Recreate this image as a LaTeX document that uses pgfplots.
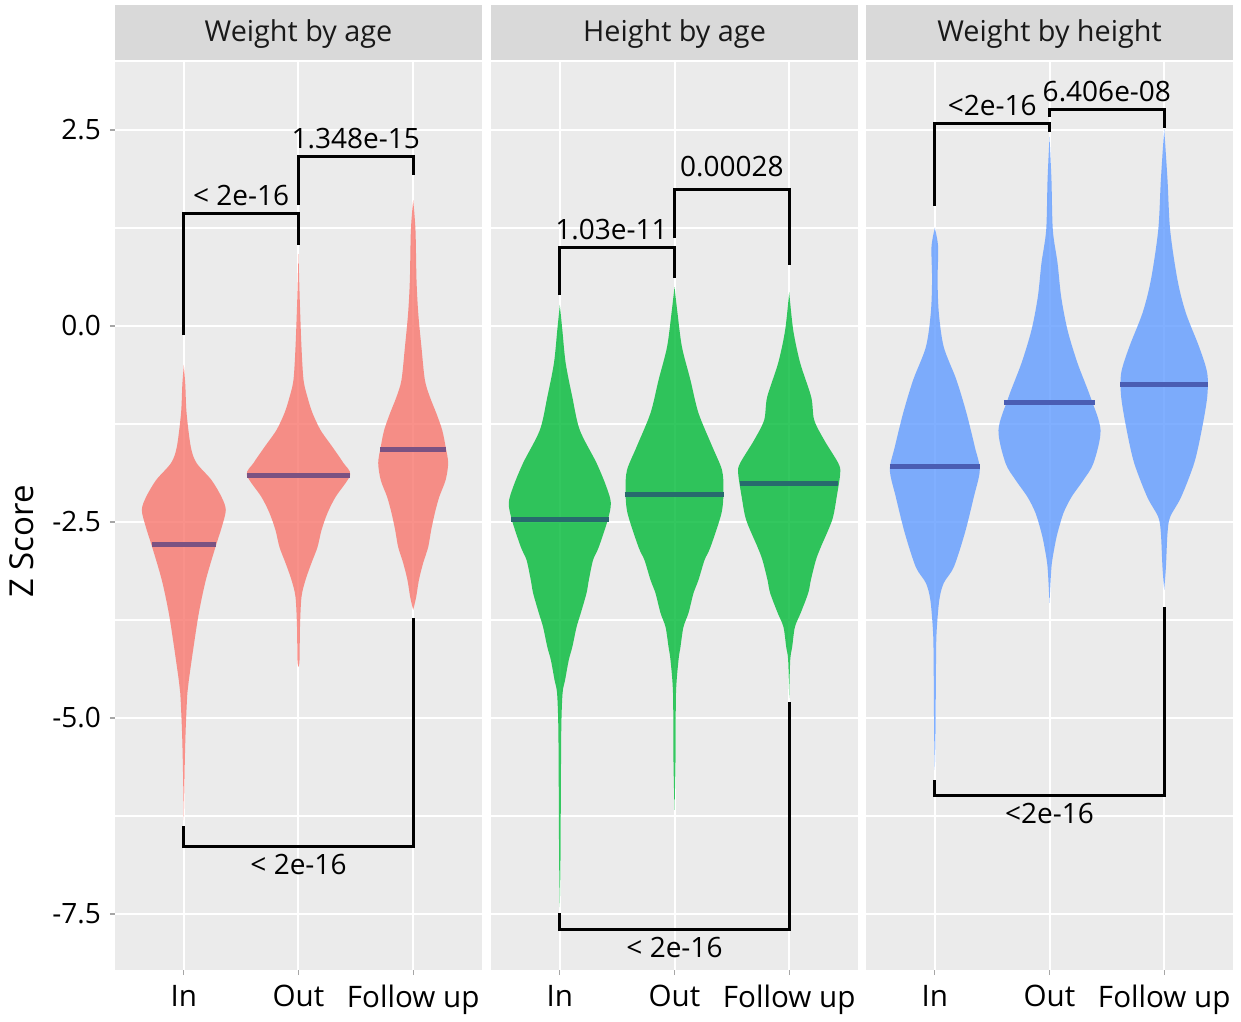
\documentclass[border=0pt]{standalone}
\usepackage{pgfplots}
\pgfplotsset{compat=1.18}
\usepackage{pgfplotstable}
\usepgfplotslibrary{fillbetween}
\usepackage{fontspec}
\setmainfont{Open Sans}
\definecolor{panelbg}{HTML}{EBEBEB}
\definecolor{stripbg}{HTML}{D9D9D9}
\definecolor{vred}{HTML}{F8766D}
\definecolor{vgreen}{HTML}{00BA38}
\definecolor{vblue}{HTML}{619CFF}
\definecolor{mred}{HTML}{7B5282}
\definecolor{mgreen}{HTML}{276B6D}
\definecolor{mblue}{HTML}{4A5DB3}
\newcommand{\tfont}{\fontsize{14}{16}\selectfont}
\newcommand{\xfont}{\fontsize{14.8}{17}\selectfont}
\newcommand{\sfont}{\fontsize{14.4}{17}\selectfont}
\newcommand{\lfont}{\fontsize{16.5}{19}\selectfont}

% ---- Weight by age ----
\pgfplotstableread{
y w
-0.497 0
-0.753 0.013
-1.110 0.024
-1.543 0.061
-1.747 0.111
-1.964 0.241
-2.181 0.329
-2.347 0.366
-2.564 0.331
-2.819 0.276
-3.240 0.192
-3.661 0.131
-4.094 0.085
-4.515 0.044
-4.681 0.031
-5.115 0.017
-5.536 0.009
-6.301 0
}\tWAin
\pgfplotstableread{
y w
0.918 0
0.332 0.011
-0.268 0.026
-0.689 0.044
-0.906 0.078
-1.110 0.122
-1.327 0.192
-1.543 0.296
-1.747 0.392
-1.901 0.450
-2.181 0.323
-2.385 0.253
-2.602 0.201
-2.819 0.166
-3.023 0.113
-3.240 0.061
-3.457 0.026
-3.839 0.013
-4.260 0.009
-4.349 0
}\tWAout
\pgfplotstableread{
y w
1.607 0
1.224 0.020
0.587 0.029
0.166 0.044
-0.268 0.072
-0.689 0.102
-0.906 0.146
-1.110 0.201
-1.327 0.253
-1.543 0.283
-1.747 0.305
-1.964 0.283
-2.181 0.227
-2.385 0.189
-2.602 0.157
-2.819 0.131
-3.023 0.087
-3.240 0.050
-3.457 0.026
-3.622 0
}\tWAfu
% ---- Height by age ----
\pgfplotstableread{
y w
0.268 0
-0.051 0.022
-0.472 0.051
-0.906 0.109
-1.327 0.174
-1.747 0.320
-2.054 0.407
-2.258 0.445
-2.474 0.418
-2.819 0.340
-2.985 0.290
-3.240 0.253
-3.406 0.233
-3.661 0.183
-3.839 0.146
-4.094 0.109
-4.260 0.078
-4.515 0.046
-4.681 0.024
-5.115 0.013
-5.957 0.009
-6.811 0.006
-7.411 0
}\tHAin
\pgfplotstableread{
y w
0.497 0
0.166 0.026
-0.268 0.065
-0.689 0.139
-1.110 0.209
-1.543 0.331
-1.837 0.414
-2.092 0.427
-2.385 0.410
-2.819 0.314
-2.985 0.262
-3.240 0.209
-3.406 0.166
-3.661 0.122
-3.839 0.078
-4.094 0.052
-4.260 0.035
-4.681 0.013
-5.536 0.009
-6.173 0
}\tHAout
\pgfplotstableread{
y w
0.434 0
-0.051 0.035
-0.472 0.096
-0.906 0.192
-1.199 0.218
-1.454 0.305
-1.747 0.427
-1.875 0.445
-2.181 0.414
-2.474 0.375
-2.819 0.276
-2.985 0.233
-3.240 0.189
-3.406 0.166
-3.661 0.100
-3.839 0.050
-4.094 0.026
-4.260 0.009
-4.745 0
}\tHAfu
% ---- Weight by height ----
\pgfplotstableread{
y w
1.250 0
1.008 0.029
0.587 0.024
0.166 0.035
-0.268 0.078
-0.689 0.189
-1.110 0.276
-1.543 0.349
-1.837 0.392
-2.181 0.340
-2.640 0.262
-3.074 0.166
-3.278 0.078
-3.495 0.039
-3.916 0.015
-4.349 0.010
-5.191 0.006
-5.663 0
}\tWHin
\pgfplotstableread{
y w
2.411 0
1.862 0.017
1.224 0.029
0.804 0.070
0.370 0.102
-0.051 0.157
-0.472 0.244
-0.906 0.357
-1.327 0.445
-1.747 0.384
-1.964 0.296
-2.181 0.192
-2.385 0.122
-2.640 0.070
-2.819 0.044
-3.074 0.017
-3.533 0
}\tWHout
\pgfplotstableread{
y w
2.513 0
1.862 0.029
1.224 0.052
0.587 0.116
0.166 0.189
-0.268 0.305
-0.599 0.375
-0.906 0.375
-1.327 0.327
-1.747 0.262
-2.181 0.148
-2.436 0.052
-2.640 0.029
-3.074 0.015
-3.367 0
}\tWHfu

\newcommand{\violin}[3]{%
  \addplot[draw=none, smooth, name path=R#2] table[x expr={#2+\thisrow{w}}, y=y] {#1};
  \addplot[draw=none, smooth, name path=L#2] table[x expr={#2-\thisrow{w}}, y=y] {#1};
  \addplot[fill=#3, fill opacity=0.8, draw=none] fill between[of=R#2 and L#2];
}

\tikzset{
  strip/.style={anchor=south, fill=stripbg, minimum width=183.5pt,
    minimum height=27.5pt, inner sep=0pt, text=black!90, font=\sfont,
    text depth=1.2pt},
  pv/.style={anchor=base, font=\tfont, text=black},
  br/.style={black, line width=1.5pt, line join=miter},
}
\pgfplotsset{
  facet/.style={
    width=183.5pt, height=454pt, scale only axis, clip=false,
    xmin=0.4, xmax=3.6, ymin=-8.214, ymax=3.367,
    axis background/.style={fill=panelbg},
    axis line style={draw=none},
    xtick={1,2,3}, xticklabels={In,Out,Follow up},
    ytick={-7.5,-5,-2.5,0,2.5},
    minor ytick={-6.25,-3.75,-1.25,1.25},
    xmajorgrids, ymajorgrids, yminorgrids,
    major grid style={white, line width=1pt},
    minor grid style={white, line width=0.6pt},
    tick align=outside, major tick length=2.5pt, minor tick length=0pt,
    major tick style={gray!70, line width=0.6pt},
    xtick pos=bottom, ytick pos=left,
    yticklabel style={font=\tfont, text=black, xshift=-1pt},
    xticklabel style={font=\xfont, text=black, yshift=-1.5pt},
  },
}

\begin{document}
\begin{tikzpicture}
% ---------- Panel 1 ----------
\begin{axis}[facet, at={(0pt,0pt)}, anchor=south west,
  yticklabels={-7.5,-5.0,-2.5,0.0,2.5}]
\violin{\tWAin}{1}{vred}
\violin{\tWAout}{2}{vred}
\violin{\tWAfu}{3}{vred}
\addplot[mred, line width=2.5pt] coordinates {(0.721,-2.793) (1.279,-2.793)};
\addplot[mred, line width=2.5pt] coordinates {(1.550,-1.901) (2.450,-1.901)};
\addplot[mred, line width=2.5pt] coordinates {(2.712,-1.569) (3.288,-1.569)};
\addplot[br] coordinates {(1,-0.115) (1,1.429) (2,1.429) (2,1.033)};
\addplot[br] coordinates {(2,1.543) (2,2.156) (3,2.156) (3,1.926)};
\addplot[br] coordinates {(1,-6.378) (1,-6.633) (3,-6.633) (3,-3.724)};
\node[pv, yshift=4pt] at (axis cs:1.5,1.429) {< 2e-16};
\node[pv, yshift=4pt] at (axis cs:2.5,2.156) {1.348e-15};
\node[pv, yshift=-14pt] at (axis cs:2,-6.633) {< 2e-16};
\node[strip] at ([yshift=1pt]rel axis cs:0.5,1) {Weight by age};
\node[xshift=-46.5pt, rotate=90, font=\lfont] at (rel axis cs:0,0.472) {Z Score};
\end{axis}
% ---------- Panel 2 ----------
\begin{axis}[facet, at={(188pt,0pt)}, anchor=south west,
  yticklabels={}, ytick style={draw=none}]
\violin{\tHAin}{1}{vgreen}
\violin{\tHAout}{2}{vgreen}
\violin{\tHAfu}{3}{vgreen}
\addplot[mgreen, line width=2.5pt] coordinates {(0.573,-2.462) (1.427,-2.462)};
\addplot[mgreen, line width=2.5pt] coordinates {(1.565,-2.143) (2.435,-2.143)};
\addplot[mgreen, line width=2.5pt] coordinates {(2.573,-2.003) (3.427,-2.003)};
\addplot[br] coordinates {(1,0.395) (1,0.995) (2,0.995) (2,0.612)};
\addplot[br] coordinates {(2,1.122) (2,1.735) (3,1.735) (3,0.778)};
\addplot[br] coordinates {(1,-7.487) (1,-7.691) (3,-7.691) (3,-4.796)};
\node[pv, yshift=4pt] at (axis cs:1.45,0.995) {1.03e-11};
\node[pv, yshift=6.5pt] at (axis cs:2.5,1.735) {0.00028};
\node[pv, yshift=-14pt] at (axis cs:2,-7.691) {< 2e-16};
\node[strip] at ([yshift=1pt]rel axis cs:0.5,1) {Height by age};
\end{axis}
% ---------- Panel 3 ----------
\begin{axis}[facet, at={(375.5pt,0pt)}, anchor=south west,
  yticklabels={}, ytick style={draw=none}]
\violin{\tWHin}{1}{vblue}
\violin{\tWHout}{2}{vblue}
\violin{\tWHfu}{3}{vblue}
\addplot[mblue, line width=2.5pt] coordinates {(0.608,-1.786) (1.392,-1.786)};
\addplot[mblue, line width=2.5pt] coordinates {(1.603,-0.982) (2.397,-0.982)};
\addplot[mblue, line width=2.5pt] coordinates {(2.616,-0.740) (3.384,-0.740)};
\addplot[br] coordinates {(1,1.531) (1,2.589) (2,2.589) (2,2.474)};
\addplot[br] coordinates {(2,2.666) (2,2.755) (3,2.755) (3,2.526)};
\addplot[br] coordinates {(1,-5.791) (1,-5.982) (3,-5.982) (3,-3.584)};
\node[pv, yshift=4pt] at (axis cs:1.5,2.589) {<2e-16};
\node[pv, yshift=4pt] at (axis cs:2.5,2.755) {6.406e-08};
\node[pv, yshift=-14pt] at (axis cs:2,-5.982) {<2e-16};
\node[strip] at ([yshift=1pt]rel axis cs:0.5,1) {Weight by height};
\end{axis}
\path (-57.5pt,-25.5pt) rectangle (563pt,485pt);
\end{tikzpicture}
\end{document}
